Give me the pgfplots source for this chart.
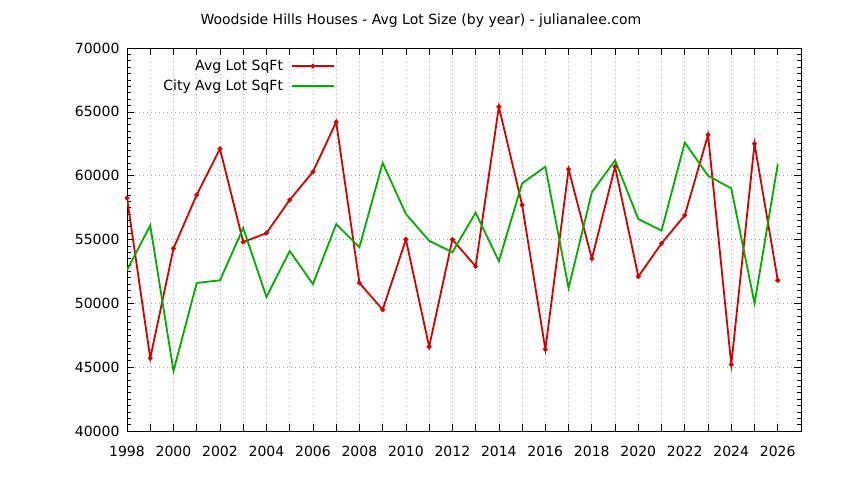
\documentclass[border=0pt]{standalone}
\usepackage{fontspec}
\setmainfont{DejaVu Sans}
\usepackage{pgfplots}
\pgfplotsset{compat=1.18}
\definecolor{lotred}{RGB}{204,0,0}
\definecolor{lotgreen}{RGB}{0,170,0}

\begin{document}
\begin{tikzpicture}
\begin{axis}[
    name=ax,
    scale only axis,
    width=674pt, height=383pt,
    xmin=1998, xmax=2027,
    ymin=40000, ymax=70000,
    xtick={1998,1999,...,2026},
    xticklabels={1998,,2000,,2002,,2004,,2006,,2008,,2010,,2012,,2014,,2016,,2018,,2020,,2022,,2024,,2026},
    ytick={40000,45000,...,70000},
    minor y tick num=9,
    major tick length=7pt,
    minor tick length=4pt,
    tick style={black, line width=0.6pt},
    axis line style={black, line width=0.8pt},
    xmajorgrids, ymajorgrids,
    major grid style={gray!70, line width=0.6pt, dash pattern=on 1pt off 3pt},
    /pgf/number format/assume math mode=true,
    /pgf/number format/set thousands separator={},
    scaled y ticks=false,
    tick label style={font=\fontsize{14}{16}\selectfont},
    yticklabel style={xshift=-4pt},
    xticklabel style={yshift=-12pt},
    title={Woodside Hills Houses - Avg Lot Size (by year) - julianalee.com},
    title style={font=\fontsize{14}{16}\selectfont, at={(0.436,1)}, anchor=base, yshift=17pt},
    legend plot pos=right,
    legend cell align=right,
    legend style={draw=none, fill=none, at={(0.3086,1)}, anchor=north east,
        yshift=-10pt, font=\fontsize{14}{16}\selectfont,
        row sep=4pt, column sep=6pt, inner sep=0pt},
    legend image code/.code={
        \draw[mark repeat=2, mark phase=2, line width=1.8pt, #1] plot coordinates {(0pt,0pt) (21pt,0pt) (42pt,0pt)};
    },
]
\addplot[color=lotred, line width=1.8pt, mark=*, mark size=1.4pt] coordinates {
    (1998,58250) (1999,45700) (2000,54300) (2001,58500) (2002,62100)
    (2003,54800) (2004,55500) (2005,58100) (2006,60300) (2007,64200)
    (2008,51600) (2009,49500) (2010,55000) (2011,46600) (2012,55000)
    (2013,52900) (2014,65400) (2015,57700) (2016,46400) (2017,60500)
    (2018,53500) (2019,60700) (2020,52100) (2021,54700) (2022,56900)
    (2023,63200) (2024,45200) (2025,62500) (2026,51800)
};
\addlegendentry{Avg Lot SqFt}
\addplot[color=lotgreen, line width=1.8pt, mark=none] coordinates {
    (1998,52600) (1999,56100) (2000,44700) (2001,51600) (2002,51800)
    (2003,55900) (2004,50500) (2005,54100) (2006,51500) (2007,56200)
    (2008,54400) (2009,61000) (2010,57000) (2011,54900) (2012,54000)
    (2013,57100) (2014,53300) (2015,59400) (2016,60700) (2017,51200)
    (2018,58700) (2019,61200) (2020,56600) (2021,55700) (2022,62600)
    (2023,60000) (2024,59000) (2025,50000) (2026,60900)
};
\addlegendentry{City Avg Lot SqFt}
\end{axis}
\path[use as bounding box] ([xshift=-127pt,yshift=-49pt]ax.south west) rectangle ([xshift=43pt,yshift=48pt]ax.north east);
\end{tikzpicture}
\end{document}
